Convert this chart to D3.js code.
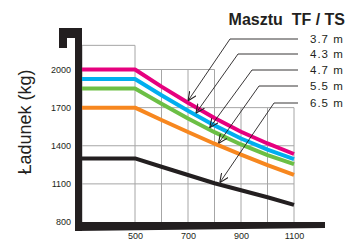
<!DOCTYPE html>
<html>
<head>
<meta charset="utf-8">
<script src="https://cdn.jsdelivr.net/npm/d3@7"></script>
<style>
  body { margin: 0; background: #fff; }
  svg { display: block; font-family: "Liberation Sans", Arial, sans-serif; }
</style>
</head>
<body>
<div id="chart-wrapper"></div>
<script>
//////////////////// Data ////////////////////
// load centre (mm)
const loadCentres = [300, 500, 600, 700, 800, 900, 1000, 1100]
// capacity (kg) per mast height
const mast37 = [2000, 2000, 1865, 1738, 1618, 1510, 1418, 1335]
const mast43 = [1925, 1925, 1797, 1675, 1560, 1457, 1370, 1295]
const mast47 = [1850, 1850, 1730, 1615, 1507, 1410, 1327, 1255]
const mast55 = [1700, 1700, 1603, 1508, 1416, 1330, 1248, 1170]
const mast65 = [1300, 1300, 1235, 1170, 1105, 1050, 995, 935]
const mastLabels = ["3.7 m", "4.3 m", "4.7 m", "5.5 m", "6.5 m"]
const yTicks = [800, 1100, 1400, 1700, 2000]
const xTicks = [500, 700, 900, 1100]
// stepped grid: vertical lines and how high each reaches
const gridX = [300, 500, 600, 700, 800, 900, 1000, 1100]
const gridTop = [2190, 2190, 2000, 2000, 2000, 1700, 1700, 1700]
const gridY = [2190, 2000, 1700, 1400, 1100]
// where the legend arrows hit the curves (load centre)
const arrowAt = [700, 730, 782, 815, 820]

//////////////////// Constants ////////////////////
const width = 353
const height = 241
const dark = "#231f20"
const colors = ["#e6007e", "#00aeef", "#6cbf45", "#f7871f", dark]
const series = [mast37, mast43, mast47, mast55, mast65]
const labelFont = "Liberation Sans, Arial, sans-serif"

const svg = d3.select("#chart-wrapper")
  .append("svg")
    .attr("width", width)
    .attr("height", height)

const x = d3.scaleLinear().domain([300, 1100]).range([82, 294])
const y = d3.scaleLinear().domain([800, 2000]).range([222, 69.5])

/// grid ///
const gridG = svg.append("g")
  .attr("stroke", "#a6a6a6")
  .attr("stroke-width", 1)
gridG.selectAll(".vgrid")
  .data(gridX)
  .join("line")
    .attr("x1", d => x(d)).attr("x2", d => x(d))
    .attr("y1", y(800)).attr("y2", (d, i) => y(gridTop[i]))
gridG.selectAll(".hgrid")
  .data(gridY)
  .join("line")
    .attr("x1", x(300))
    .attr("x2", v => x(d3.max(gridX.filter((g, i) => gridTop[i] >= v))))
    .attr("y1", v => y(v)).attr("y2", v => y(v))

/// curves ///
const line = d3.line()
  .x((d, i) => x(loadCentres[i]))
  .y(d => y(d))

svg.append("g").selectAll("path")
  .data(series.slice().reverse())
  .join("path")
    .attr("d", line)
    .attr("fill", "none")
    .attr("stroke", (d, i) => colors[colors.length - 1 - i])
    .attr("stroke-width", 4)
    .attr("stroke-linejoin", "round")

/// fork shaped axes ///
const x0 = x(300)
svg.append("path")
  .attr("fill", dark)
  .attr("d", `M${x0 - 23},28 H${x0} V231 H${x0 - 7} V38 H${x0 - 15} V48 H${x0 - 23} Z`)
svg.append("path")
  .attr("fill", dark)
  .attr("d", `M${x0 - 7},${y(800)} H${x(1100) + 31} V${y(800) + 6} L${x0 - 7},${y(800) + 9} Z`)

/// axes labels ///
svg.append("g")
  .attr("transform", `translate(${x0 - 7},0)`)
  .call(d3.axisLeft(y).tickValues(yTicks).tickFormat(d3.format("d")).tickSize(0).tickPadding(4))
  .call(g => g.select(".domain").remove())
  .call(g => g.selectAll("text").attr("fill", dark).style("font-size", "9px").style("font-family", labelFont))

svg.append("g")
  .attr("transform", `translate(0,${y(800) + 9})`)
  .call(d3.axisBottom(x).tickValues(xTicks).tickFormat(d3.format("d")).tickSize(0).tickPadding(2))
  .call(g => g.select(".domain").remove())
  .call(g => g.selectAll("text").attr("fill", dark).style("font-size", "9px").style("font-family", labelFont))

svg.append("text")
  .attr("transform", `translate(31,122) rotate(-90)`)
  .attr("text-anchor", "middle")
  .attr("fill", dark)
  .style("font-size", "18px")
  .text("Ładunek (kg)")

svg.append("text")
  .attr("x", 345).attr("y", 25)
  .attr("text-anchor", "end")
  .attr("fill", dark)
  .style("font-size", "16px")
  .style("font-weight", "bold")
  .style("white-space", "pre")
  .text("Masztu  TF / TS")

/// legend with arrows ///
const defs = svg.append("defs")
defs.append("marker")
  .attr("id", "arrow")
  .attr("viewBox", "0 0 10 10")
  .attr("refX", 10).attr("refY", 5)
  .attr("markerWidth", 9).attr("markerHeight", 9)
  .attr("markerUnits", "userSpaceOnUse")
  .attr("orient", "auto")
  .append("path")
    .attr("d", "M0,0.5 L10,5 L0,9.5")
    .attr("fill", "none")
    .attr("stroke", dark)
    .attr("stroke-width", 1.2)

const legendY = [39, 54, 70, 86, 103]
const cornerX = [230, 238, 252, 259, 274]

const legendG = svg.append("g")
legendG.selectAll("path")
  .data(mastLabels)
  .join("path")
    .attr("d", (d, i) => {
      const tx = x(arrowAt[i])
      const ty = y(d3.scaleLinear().domain(loadCentres).range(series[i])(arrowAt[i])) - 2
      return `M298,${legendY[i]} H${cornerX[i]} L${tx},${ty}`
    })
    .attr("fill", "none")
    .attr("stroke", dark)
    .attr("stroke-width", 0.9)
    .attr("marker-end", "url(#arrow)")

legendG.selectAll("text")
  .data(mastLabels)
  .join("text")
    .attr("x", 310)
    .attr("y", (d, i) => legendY[i])
    .attr("dy", "0.35em")
    .attr("fill", dark)
    .style("font-size", "11.5px")
    .style("letter-spacing", "1px")
    .text(d => d)
</script>
</body>
</html>
